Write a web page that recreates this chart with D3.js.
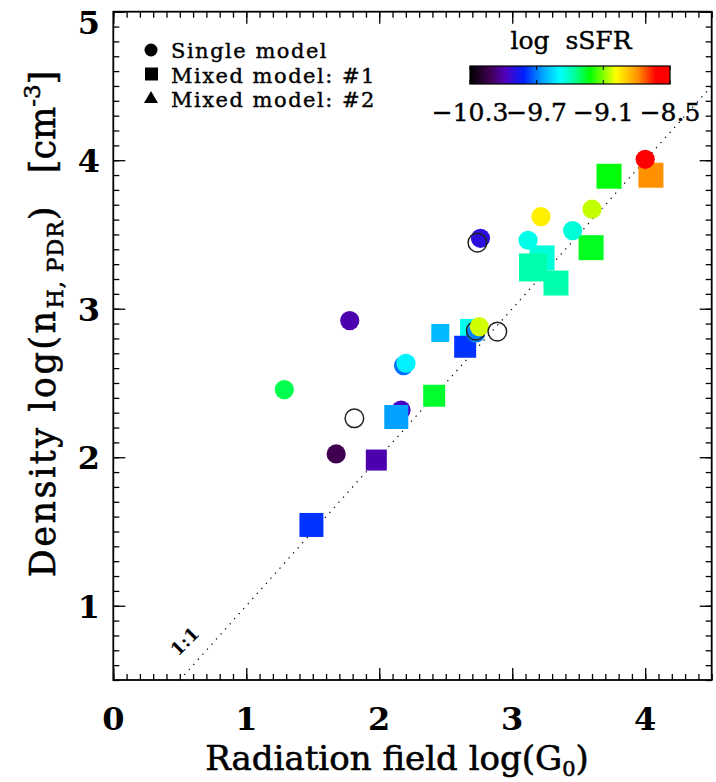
<!DOCTYPE html>
<html><head><meta charset="utf-8">
<script src="https://cdn.jsdelivr.net/npm/d3@7"></script>
<style>body{margin:0;background:#fff}svg{display:block}</style>
</head><body>
<svg id="chart" width="716" height="782"></svg>
<script>
// ---------------- data ----------------
const xTicks = [0, 1, 2, 3, 4];
const yTicks = [1, 2, 3, 4, 5];
const cbTicks = [-10.3, -9.7, -9.1, -8.5];
const cbTickLabels = ["\u221210.3", "\u22129.7", "\u22129.1", "\u22128.5"];
const legendLabels = ["Single model", "Mixed model: #1", "Mixed model: #2"];

// single-model circles (sSFR null = open circle, no sSFR)
const circleX    = [2.164, 1.676, 1.286, 1.778, 2.183, 2.201, 2.726, 2.726, 2.753, 2.888, 1.813, 2.761, 2.738, 3.119, 3.454, 3.216, 3.600, 4.000];
const circleY    = [2.318, 2.022, 2.455, 2.920, 2.617, 2.633, 2.835, 2.852, 2.879, 2.846, 2.262, 3.474, 3.445, 3.461, 3.526, 3.620, 3.670, 4.006];
const circleSSFR = [-9.96, -10.12, -9.29, -10.0, -9.71, -9.51, -9.69, null, -9.03, null, null, -9.90, null, -9.46, -9.44, -8.96, -9.04, -8.59];
const circleBehind = [0]; // drawn underneath the squares

// mixed model #1 squares
const squareX    = [1.490, 1.978, 2.128, 2.413, 2.459, 2.683, 2.646, 3.224, 3.329, 3.156, 3.593, 3.728, 4.043];
const squareY    = [1.544, 1.981, 2.271, 2.414, 2.837, 2.864, 2.744, 3.342, 3.173, 3.278, 3.411, 3.892, 3.899];
const squareSSFR = [-9.79, -10.0, -9.65, -9.26, -9.61, -9.47, -9.79, -9.44, -9.38, -9.38, -9.25, -9.23, -8.79];
const squareWeight = [24, 21, 24, 22, 18, 20, 22, 25, 25, 28, 25, 25, 25];

// ---------------- layout ----------------
const L = 113.3, R = 711.7, T = 11.7, B = 680;
const svg = d3.select("#chart");
const FONT = "'DejaVu Serif', serif";

const x = d3.scaleLinear().domain([0, 4.5]).range([L, R]);
const y = d3.scaleLinear().domain([0.5, 5]).range([B, T]);
const sq = d3.scaleLinear().domain([0, 30]).range([0, 30]);

// IDL-like rainbow colour table
const cmapStops = [0, 0.10, 0.18, 0.27, 0.36, 0.45, 0.52, 0.60, 0.73, 0.84, 0.93, 1.0];
const cmapColors = ["#000000", "#400050", "#5000c0", "#0020ff", "#00a0ff", "#00ffff", "#00ffa0", "#00ff00", "#ffff00", "#ff9000", "#ff0000", "#ff0000"];
const tScale = d3.scaleLinear().domain([-10.3, -8.5]).range([0, 1]).clamp(true);
const cmap = d3.scaleLinear().domain(cmapStops).range(cmapColors).interpolate(d3.interpolateRgb);
const color = v => cmap(tScale(v));

// ---------------- 1:1 line ----------------
svg.append("line")
  .attr("x1", x(0.5)).attr("y1", y(0.5))
  .attr("x2", x(4.5)).attr("y2", y(4.5))
  .attr("stroke", "#000").attr("stroke-width", 1.2)
  .attr("stroke-dasharray", "1.3 5.5");
svg.append("text")
  .attr("transform", `translate(${x(0.57)},${y(0.73)}) rotate(-45)`)
  .attr("text-anchor", "middle")
  .attr("font-family", FONT).attr("font-size", 18).attr("font-weight", "bold")
  .text("1:1");

// ---------------- marks ----------------
const circles = circleX.map((v, i) => ({x: v, y: circleY[i], s: circleSSFR[i], i}));
const squares = squareX.map((v, i) => ({x: v, y: squareY[i], s: squareSSFR[i], w: squareWeight[i]}));
const R_C = 9.6;

function drawCircles(data) {
  svg.append("g").selectAll("circle").data(data).join("circle")
    .attr("cx", d => x(d.x)).attr("cy", d => y(d.y)).attr("r", d => d.s == null ? 9.3 : R_C)
    .attr("fill", d => d.s == null ? "none" : color(d.s))
    .attr("stroke", d => d.s == null ? "#222" : "none")
    .attr("stroke-width", 1.5);
}
drawCircles(circles.filter(d => circleBehind.includes(d.i)));
svg.append("g").selectAll("rect").data(squares).join("rect")
  .attr("x", d => x(d.x) - sq(d.w) / 2).attr("y", d => y(d.y) - sq(d.w) / 2)
  .attr("width", d => sq(d.w)).attr("height", d => sq(d.w))
  .attr("fill", d => color(d.s));
drawCircles(circles.filter(d => !circleBehind.includes(d.i)));

// ---------------- axes (IDL style, inward ticks on all sides) ----------------
const xMinor = d3.range(0, 4.501, 0.1).map(v => +v.toFixed(2));
const yMinor = d3.range(0.5, 5.001, 0.1).map(v => +v.toFixed(2));
const axStyle = g => { g.select(".domain").remove(); g.selectAll("line").attr("stroke", "#000").attr("stroke-width", 1.3); };

svg.append("g").attr("transform", `translate(0,${B})`).call(d3.axisBottom(x).tickValues(xMinor).tickSize(-6).tickFormat("")).call(axStyle);
svg.append("g").attr("transform", `translate(0,${B})`).call(d3.axisBottom(x).tickValues(xTicks).tickSize(-12).tickFormat("")).call(axStyle);
svg.append("g").attr("transform", `translate(0,${T})`).call(d3.axisTop(x).tickValues(xMinor).tickSize(-6).tickFormat("")).call(axStyle);
svg.append("g").attr("transform", `translate(0,${T})`).call(d3.axisTop(x).tickValues(xTicks).tickSize(-12).tickFormat("")).call(axStyle);
svg.append("g").attr("transform", `translate(${L},0)`).call(d3.axisLeft(y).tickValues(yMinor).tickSize(-6).tickFormat("")).call(axStyle);
svg.append("g").attr("transform", `translate(${L},0)`).call(d3.axisLeft(y).tickValues(yTicks).tickSize(-12).tickFormat("")).call(axStyle);
svg.append("g").attr("transform", `translate(${R},0)`).call(d3.axisRight(y).tickValues(yMinor).tickSize(-6).tickFormat("")).call(axStyle);
svg.append("g").attr("transform", `translate(${R},0)`).call(d3.axisRight(y).tickValues(yTicks).tickSize(-12).tickFormat("")).call(axStyle);

svg.append("rect").attr("x", L).attr("y", T).attr("width", R - L).attr("height", B - T)
  .attr("fill", "none").attr("stroke", "#000").attr("stroke-width", 1.8);

// tick labels
svg.append("g").selectAll("text").data(xTicks).join("text")
  .attr("x", d => x(d)).attr("y", 730)
  .attr("text-anchor", "middle").attr("font-family", FONT).attr("font-size", 32).attr("font-weight", "bold")
  .text(d => d3.format("d")(d));
svg.append("g").selectAll("text").data(yTicks).join("text")
  .attr("x", 100).attr("y", d => Math.max(y(d) + 12, 34))
  .attr("text-anchor", "end").attr("font-family", FONT).attr("font-size", 32).attr("font-weight", "bold")
  .text(d => d3.format("d")(d));

// axis titles
const xt = svg.append("text").attr("x", 397).attr("y", 770)
  .attr("text-anchor", "middle").attr("font-family", FONT).attr("font-size", 34)
  .attr("stroke", "#000").attr("stroke-width", 0.6);
xt.append("tspan").text("Radiation field log(G");
xt.append("tspan").attr("font-size", 21).attr("dy", 6).text("0");
xt.append("tspan").attr("dy", -6).text(")");

const yt = svg.append("text").attr("transform", "translate(55,324) rotate(-90)")
  .attr("text-anchor", "middle").attr("font-family", FONT).attr("font-size", 35)
  .attr("stroke", "#000").attr("stroke-width", 0.6).attr("xml:space", "preserve");
yt.append("tspan").attr("letter-spacing", 2.5).text("Density log(n");
yt.append("tspan").attr("font-size", 22).attr("letter-spacing", 1).attr("dy", 8).text("H, PDR");
yt.append("tspan").attr("dy", -8).text(")   [cm");
yt.append("tspan").attr("font-size", 23).attr("dy", -15).text("-3");
yt.append("tspan").attr("dy", 15).text("]");

// ---------------- legend ----------------
const lg = svg.append("g");
const legY = [58, 82.5, 107];
lg.append("circle").attr("cx", 151).attr("cy", legY[0] - 8).attr("r", 6.5).attr("fill", "#000");
lg.append("rect").attr("x", 145).attr("y", legY[1] - 15).attr("width", 13).attr("height", 13).attr("fill", "#000");
lg.append("path").attr("d", d3.symbol(d3.symbolTriangle, 85)()).attr("transform", `translate(151,${legY[2] - 8})`).attr("fill", "#000");
lg.selectAll("text").data(legendLabels).join("text")
  .attr("x", 171).attr("y", (d, i) => legY[i])
  .attr("font-family", FONT).attr("font-size", 21).attr("letter-spacing", 1.5)
  .attr("stroke", "#000").attr("stroke-width", 0.4)
  .text(d => d);

// ---------------- colour bar ----------------
const cbX = d3.scaleLinear().domain([-10.3, -8.5]).range([470, 670]);
const cbTop = 66, cbH = 18;
const defs = svg.append("defs");
const grad = defs.append("linearGradient").attr("id", "cbgrad");
cmapStops.forEach((t, i) => grad.append("stop").attr("offset", t).attr("stop-color", cmapColors[i]));
svg.append("rect").attr("x", cbX(-10.3)).attr("y", cbTop).attr("width", cbX(-8.5) - cbX(-10.3)).attr("height", cbH)
  .attr("fill", "url(#cbgrad)").attr("stroke", "#000").attr("stroke-width", 1.2);
svg.append("g").selectAll("line").data(cbTicks).join("line")
  .attr("x1", d => cbX(d)).attr("x2", d => cbX(d))
  .attr("y1", cbTop + cbH - 4).attr("y2", cbTop + cbH)
  .attr("stroke", "#000").attr("stroke-width", 1);
svg.append("g").selectAll("line").data(cbTicks).join("line")
  .attr("x1", d => cbX(d)).attr("x2", d => cbX(d))
  .attr("y1", cbTop).attr("y2", cbTop + 4)
  .attr("stroke", "#000").attr("stroke-width", 1);
svg.append("text").attr("x", 571).attr("y", 49).attr("text-anchor", "middle")
  .attr("font-family", FONT).attr("font-size", 25).attr("xml:space", "preserve")
  .attr("stroke", "#000").attr("stroke-width", 0.4).text("log  sSFR");
svg.append("g").selectAll("text").data(cbTicks).join("text")
  .attr("x", d => cbX(d)).attr("y", 121).attr("text-anchor", "middle")
  .attr("font-family", FONT).attr("font-size", 25)
  .attr("stroke", "#000").attr("stroke-width", 0.4)
  .text((d, i) => cbTickLabels[i]);
</script>
</body></html>
